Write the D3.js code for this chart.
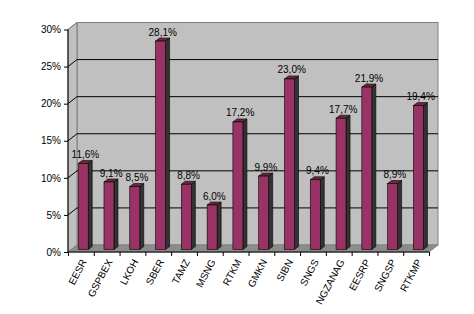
<!DOCTYPE html>
<html>
<head>
<meta charset="utf-8">
<script src="https://cdn.jsdelivr.net/npm/d3@7"></script>
<style>
  body { margin: 0; background: #fff; }
  svg { display: block; font-family: Arial, "Liberation Sans", sans-serif; }
</style>
</head>
<body>
<svg id="chart" width="474" height="314"></svg>
<script>
// data
const tickers = ["EESR", "GSPBEX", "LKOH", "SBER", "TAMZ", "MSNG", "RTKM", "GMKN", "SIBN", "SNGS", "NGZANAG", "EESRP", "SNGSP", "RTKMP"];
const values = [11.6, 9.1, 8.5, 28.1, 8.8, 6.0, 17.2, 9.9, 23.0, 9.4, 17.7, 21.9, 8.9, 19.4];
const yTicks = [0, 5, 10, 15, 20, 25, 30];

const DEPTH_X = 9, DEPTH_Y = -7;      // wall depth
const BAR_OFF_X = 2.3, BAR_OFF_Y = -2.5; // bar front face inside the floor
const BAR_W = 10, BAR_DX = 4, BAR_DY = -3;

const svg = d3.select("#chart");
const plotLeft = 68, plotRight = 429, plotBottom = 252, plotTop = 29.5;

const x = d3.scaleBand().domain(tickers).range([plotLeft, plotRight]);
const xIdx = d3.scaleLinear().domain([0, tickers.length]).range([plotLeft, plotRight]);
const y = d3.scaleLinear().domain([0, 30]).range([plotBottom, plotTop]);

const fmt = v => v.toFixed(1).replace(".", ",") + "%";

// back wall
svg.append("rect")
    .attr("x", plotLeft + DEPTH_X).attr("y", y(30) + DEPTH_Y)
    .attr("width", plotRight - plotLeft).attr("height", y(0) - y(30))
    .attr("fill", "#c0c0c0").attr("stroke", "#808080");

// side wall
svg.append("path")
    .attr("d", `M${plotLeft},${y(0)}L${plotLeft},${y(30)}L${plotLeft + DEPTH_X},${y(30) + DEPTH_Y}L${plotLeft + DEPTH_X},${y(0) + DEPTH_Y}Z`)
    .attr("fill", "#c0c0c0").attr("stroke", "#808080");

// floor
svg.append("path")
    .attr("d", `M${plotLeft},${y(0)}L${plotRight},${y(0)}L${plotRight + DEPTH_X},${y(0) + DEPTH_Y}L${plotLeft + DEPTH_X},${y(0) + DEPTH_Y}Z`)
    .attr("fill", "#8c8c8c").attr("stroke", "#808080");

// gridlines on side and back walls
const grid = svg.append("g").attr("stroke", "#000").attr("fill", "none");
grid.selectAll("path")
    .data(yTicks.filter(t => t > 0 && t < 30))
    .enter().append("path")
    .attr("d", t => `M${plotLeft},${y(t)}L${plotLeft + DEPTH_X},${y(t) + DEPTH_Y}H${plotRight + DEPTH_X}`);
grid.append("path")
    .attr("stroke", "#808080")
    .attr("d", `M${plotLeft},${y(30)}L${plotLeft + DEPTH_X},${y(30) + DEPTH_Y}`);

// bars
const bars = svg.append("g").selectAll("g")
    .data(tickers.map((t, i) => ({ name: t, value: values[i] })))
    .enter().append("g");

const bx = d => x(d.name) + x.bandwidth() / 2 + BAR_OFF_X - BAR_W / 2;
const by = d => y(d.value) + BAR_OFF_Y;
const bb = y(0) + BAR_OFF_Y;

bars.append("path") // side
    .attr("d", d => `M${bx(d) + BAR_W},${bb}V${by(d)}l${BAR_DX},${BAR_DY}V${bb + BAR_DY}Z`)
    .attr("fill", "#333333").attr("stroke", "#000").attr("stroke-width", 0.6);
bars.append("path") // top
    .attr("d", d => `M${bx(d)},${by(d)}h${BAR_W}l${BAR_DX},${BAR_DY}h${-BAR_W}Z`)
    .attr("fill", "#6b2c3a").attr("stroke", "#000").attr("stroke-width", 0.6);
bars.append("rect") // front
    .attr("x", bx).attr("y", by)
    .attr("width", BAR_W).attr("height", d => bb - by(d))
    .attr("fill", "#993366").attr("stroke", "#000").attr("stroke-width", 0.6);

bars.append("text")
    .attr("x", d => x(d.name) + x.bandwidth() / 2 + 4.5)
    .attr("y", d => by(d) - 5.5)
    .attr("text-anchor", "middle")
    .attr("font-size", 10)
    .text(d => fmt(d.value));

// y axis
svg.append("g")
    .attr("transform", `translate(${plotLeft},0)`)
    .call(d3.axisLeft(y).tickValues(yTicks).tickSize(4).tickFormat(d => d + "%"))
    .call(g => g.select(".domain").attr("d", `M0,${y(0)}V${y(30)}`))
    .call(g => g.selectAll("text").attr("font-size", 10).attr("font-family", null));

// x axis: ticks on category boundaries
svg.append("g")
    .attr("transform", `translate(0,${plotBottom})`)
    .call(d3.axisBottom(xIdx).tickValues(d3.range(tickers.length + 1)).tickSize(4).tickFormat(""))
    .call(g => g.select(".domain").attr("d", `M${plotLeft},0H${plotRight}`));

// rotated category labels
svg.append("g").selectAll("text")
    .data(tickers)
    .enter().append("text")
    .attr("transform", t => `translate(${x(t) + x.bandwidth() / 2 + 3},${plotBottom + 8}) rotate(-62)`)
    .attr("text-anchor", "end")
    .attr("dy", "0.35em")
    .attr("font-size", 10)
    .text(t => t);
</script>
</body>
</html>
